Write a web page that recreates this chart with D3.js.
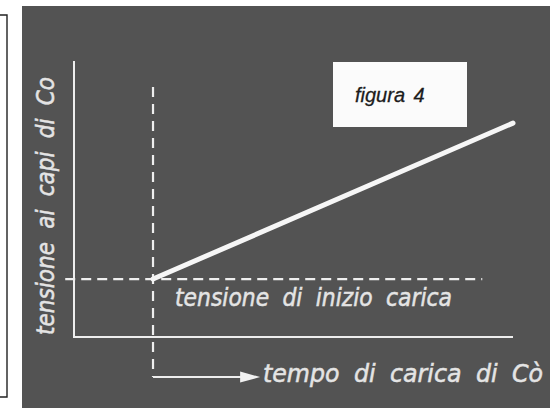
<!DOCTYPE html>
<html>
<head>
<meta charset="utf-8">
<script src="https://cdn.jsdelivr.net/npm/d3@7"></script>
<style>
  body { margin: 0; background: #fff; }
  svg { display: block; }
  .lbl { font-family: "DejaVu Sans", sans-serif; font-weight: 200; font-style: italic; fill: #e4e4e4;
         stroke: #e4e4e4; stroke-width: 0.5; word-spacing: 7px; }
</style>
</head>
<body>
<script>
// charge curve: time vs voltage on Co (arbitrary units 0..10)
var curveTime = [1.8, 10];
var curveVolt = [2.1, 7.75];
// reference guides
var startTime = 1.8, startVolt = 2.1;
var guideH = [-0.2, 9.3];     // dashed horizontal extent (time)
var guideV = [9.06, -1.45];   // dashed vertical extent (volt)
var arrowEnd = 4.24;
var labels = {
  y: "tensione ai capi di Co",
  x: "tempo di carica di Cò",
  start: "tensione di inizio carica",
  title: "figura 4"
};

var W = 560, H = 408;
var svg = d3.select("body").append("svg").attr("width", W).attr("height", H);

// scanned page frame on the left
svg.append("path")
   .attr("d", "M0,15H7V397H0")
   .attr("fill", "none").attr("stroke", "#222").attr("stroke-width", 1.4);

// dark panel
svg.append("rect").attr("x", 22).attr("y", 6).attr("width", 528).attr("height", 402)
   .attr("fill", "#535353");

var x = d3.scaleLinear().domain([0, 10]).range([74, 513]);
var y = d3.scaleLinear().domain([0, 10]).range([337, 61]);

var g = svg.append("g");

// axes (plain lines, no ticks)
g.append("path")
  .attr("d", "M" + x(0) + "," + y(10) + "V" + y(0) + "H" + x(10))
  .attr("fill", "none").attr("stroke", "#eeeeee").attr("stroke-width", 2);

// dashed guides
g.append("line")
  .attr("x1", x(guideH[0])).attr("x2", x(guideH[1]))
  .attr("y1", y(startVolt)).attr("y2", y(startVolt))
  .attr("stroke", "#eeeeee").attr("stroke-width", 2.2).attr("stroke-dasharray", "10,6");
g.append("line")
  .attr("x1", x(startTime)).attr("x2", x(startTime))
  .attr("y1", y(guideV[0])).attr("y2", y(guideV[1]))
  .attr("stroke", "#eeeeee").attr("stroke-width", 2.2).attr("stroke-dasharray", "10,7");

// arrow
var ay = y(guideV[1]);
g.append("line")
  .attr("x1", x(startTime)).attr("x2", x(arrowEnd) - 16)
  .attr("y1", ay).attr("y2", ay)
  .attr("stroke", "#eeeeee").attr("stroke-width", 2);
g.append("path")
  .attr("d", "M" + x(arrowEnd) + "," + ay + "l-20,-5.5v11z")
  .attr("fill", "#f2f2f2");

// charge line
g.append("path")
  .datum(d3.zip(curveTime, curveVolt))
  .attr("fill", "none").attr("stroke", "#f6f6f6").attr("stroke-width", 5)
  .attr("stroke-linecap", "round")
  .attr("d", d3.line().x(function(d){return x(d[0])}).y(function(d){return y(d[1])}));

// labels
g.append("text").attr("class", "lbl")
  .attr("x", 175).attr("y", 306).attr("font-size", 24)
  .attr("textLength", 277).attr("lengthAdjust", "spacingAndGlyphs")
  .text(labels.start);

g.append("text").attr("class", "lbl")
  .attr("x", 263).attr("y", 382).attr("font-size", 24)
  .attr("textLength", 280).attr("lengthAdjust", "spacingAndGlyphs")
  .text(labels.x);

g.append("text").attr("class", "lbl")
  .attr("transform", "translate(54,335) rotate(-90)")
  .attr("font-size", 24)
  .attr("textLength", 258).attr("lengthAdjust", "spacingAndGlyphs")
  .text(labels.y);

// title box
svg.append("rect").attr("x", 333).attr("y", 62).attr("width", 134).attr("height", 65)
   .attr("fill", "#fbfbfb");
svg.append("text")
   .attr("x", 355).attr("y", 102)
   .attr("font-family", "'Liberation Sans', Arial, sans-serif")
   .attr("font-style", "italic").attr("font-size", 20).attr("fill", "#1c1c1c")
   .attr("stroke", "#1c1c1c").attr("stroke-width", 0.3)
   .attr("word-spacing", 3)
   .text(labels.title);
</script>
</body>
</html>
